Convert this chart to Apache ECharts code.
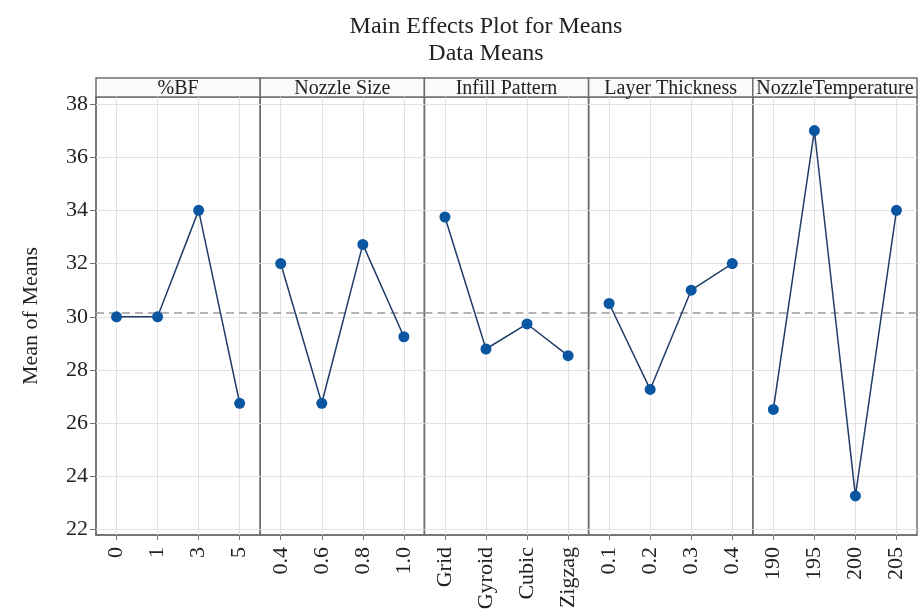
<!DOCTYPE html>
<html>
<head>
<meta charset="utf-8">
<script src="https://cdn.jsdelivr.net/npm/echarts@6/dist/echarts.min.js"></script>
<style>
  html, body { margin: 0; padding: 0; background: #fff; }
  #main { width: 922px; height: 616px; }
</style>
</head>
<body>
<div id="main"></div>
<script>
// factor names and their levels
const factors = ['%BF', 'Nozzle Size', 'Infill Pattern', 'Layer Thickness', 'NozzleTemperature']
const levels = [
    ['0', '1', '3', '5'],
    ['0.4', '0.6', '0.8', '1.0'],
    ['Grid', 'Gyroid', 'Cubic', 'Zigzag'],
    ['0.1', '0.2', '0.3', '0.4'],
    ['190', '195', '200', '205']
]
// means
const means = [
    [30.0, 30.0, 34.0, 26.75],
    [32.0, 26.75, 32.72, 29.25],
    [33.75, 28.79, 29.73, 28.54],
    [30.5, 27.27, 31.0, 32.0],
    [26.52, 37.0, 23.27, 34.0]
]
const grandMean = 30.17
const yTicks = [22, 24, 26, 28, 30, 32, 34, 36, 38]

const font = 'Liberation Serif'
const plotLeft = 96
const plotRight = 917
const panelW = (plotRight - plotLeft) / factors.length
const headTop = 78
const headBottom = 97
const axisBottom = 535

let myChart = echarts.init(document.getElementById('main'))

let grids = [], xAxes = [], yAxes = [], series = [], graphics = []

factors.forEach((f, i) => {
    let left = plotLeft + i * panelW
    grids.push({
        left: left,
        top: headBottom,
        width: panelW,
        height: axisBottom - headBottom,
        show: true,
        borderColor: '#6f6f6f',
        borderWidth: 1.5,
        backgroundColor: 'transparent'
    })
    xAxes.push({
        type: 'category',
        gridIndex: i,
        data: levels[i],
        boundaryGap: true,
        axisLine: { show: true, lineStyle: { color: '#6f6f6f', width: 1.5 } },
        axisTick: { show: true, alignWithLabel: true, length: 5, lineStyle: { color: '#6f6f6f' } },
        axisLabel: {
            rotate: 90,
            margin: 12,
            fontFamily: font,
            fontSize: 22,
            color: '#222'
        },
        splitLine: { show: false }
    })
    yAxes.push({
        type: 'value',
        gridIndex: i,
        min: 21.8,
        max: 38.26,
        axisLine: { show: i === 0, lineStyle: { color: '#6f6f6f', width: 1.5 } },
        axisTick: { show: i === 0, length: 6, customValues: yTicks, lineStyle: { color: '#6f6f6f' } },
        axisLabel: {
            show: i === 0,
            customValues: yTicks,
            margin: 8,
            fontFamily: font,
            fontSize: 22,
            color: '#222'
        },
        splitLine: { show: false },
        name: i === 0 ? 'Mean of Means' : '',
        nameLocation: 'middle',
        nameGap: 54,
        nameRotate: 90,
        nameTextStyle: { fontFamily: font, fontSize: 22, color: '#222' }
    })
    // light grid lines behind the data
    series.push({
        type: 'line',
        xAxisIndex: i,
        yAxisIndex: i,
        data: [],
        silent: true,
        z: 1,
        markLine: {
            silent: true,
            z: 1,
            symbol: 'none',
            label: { show: false },
            lineStyle: { color: '#e2e2e2', type: 'solid', width: 1 },
            data: yTicks.map(v => ({ yAxis: v })).concat(levels[i].map(c => ({ xAxis: c })))
        }
    })
    // reference line at the grand mean
    series.push({
        type: 'line',
        xAxisIndex: i,
        yAxisIndex: i,
        data: [],
        silent: true,
        z: 2,
        markLine: {
            silent: true,
            z: 2,
            symbol: 'none',
            label: { show: false },
            lineStyle: { color: '#9a9a9a', type: [8, 5], width: 1.5 },
            data: [{ yAxis: grandMean }]
        }
    })
    series.push({
        name: f,
        type: 'line',
        xAxisIndex: i,
        yAxisIndex: i,
        data: means[i],
        z: 10,
        symbol: 'circle',
        symbolSize: 11,
        lineStyle: { color: '#1f3d68', width: 1.5 },
        itemStyle: { color: '#0b56a0' }
    })
    // panel header strip
    graphics.push({
        type: 'rect',
        shape: { x: left, y: headTop, width: panelW, height: headBottom - headTop },
        style: { fill: '#fafafa', stroke: '#6f6f6f', lineWidth: 1.5 }
    })
    graphics.push({
        type: 'text',
        x: left + panelW / 2,
        y: headTop + (headBottom - headTop) / 2 + 1,
        style: {
            text: f,
            fill: '#222',
            font: '20px "' + font + '"',
            align: 'center',
            verticalAlign: 'middle'
        }
    })
})

let option = {
    backgroundColor: '#fff',
    animation: false,
    title: {
        text: 'Main Effects Plot for Means\nData Means',
        left: 481,
        textAlign: 'center',
        top: 8,
        textStyle: { fontFamily: font, fontSize: 24, fontWeight: 'normal', color: '#222', lineHeight: 27 }
    },
    grid: grids,
    xAxis: xAxes,
    yAxis: yAxes,
    series: series,
    graphic: graphics
}
myChart.setOption(option)
</script>
</body>
</html>
